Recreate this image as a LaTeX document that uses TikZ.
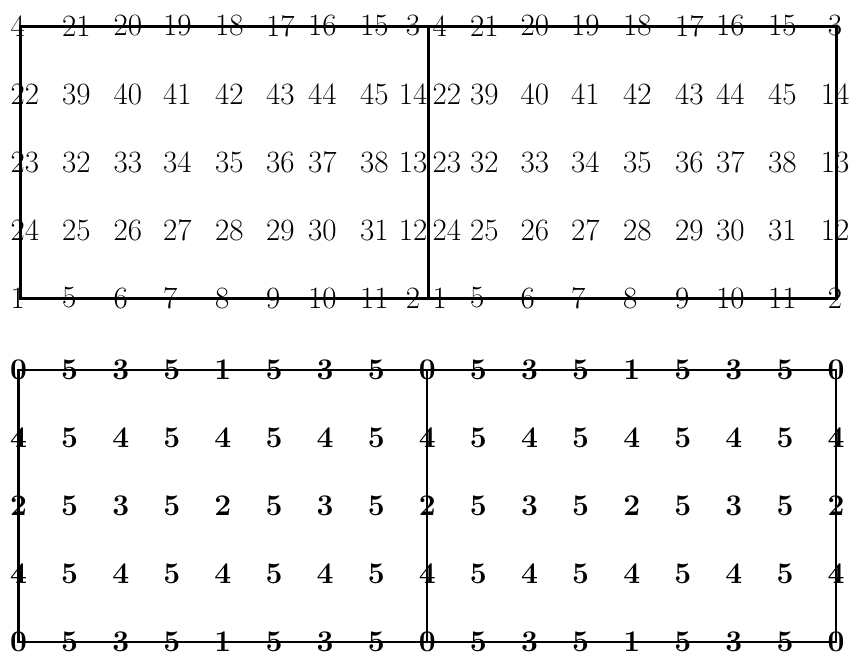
\documentclass[tikz,border=0pt]{standalone}
\usepackage{tikz}
\usetikzlibrary{positioning}
\tikzset{
  x=1pt,y=-1pt,
  numlbl/.style={inner sep=0pt,font=\fontsize{31}{36}\selectfont},
  wtlbl/.style={inner sep=0pt,font=\fontsize{30}{36}\selectfont\bfseries},
  meshbox/.style={line width=3pt},
  wtbox/.style={line width=2.2pt},
}

\begin{document}
\begin{tikzpicture}
  \useasboundingbox (0,0) rectangle (851,651);
  % node numbers, two copies of the mesh
  \foreach \row [count=\r from 0] in {{4,21,20,19,18,17,16,15,3},
      {22,39,40,41,42,43,44,45,14},{23,32,33,34,35,36,37,38,13},
      {24,25,26,27,28,29,30,31,12},{1,5,6,7,8,9,10,11,2}}{
    \foreach \lbl [count=\c from 0] in \row {
      \pgfmathsetmacro\lx{{10.5,62,113.5,163,215,266,308,360,413}[\c]}
      \pgfmathsetmacro\rx{{432.5,470,520.5,571,623,675,716,768,835}[\c]}
      \ifnum\c<8 \def\anc{west}\else\def\anc{center}\fi
      \node[numlbl,anchor=\anc] (l-\r-\c) at (\lx,26+68*\r) {\lbl};
      \node[numlbl,anchor=\anc] (r-\r-\c) at (\rx,26+68*\r) {\lbl};
    }
  }
  \coordinate (tn1) at (20,26);   \coordinate (ts1) at (20,298);
  \coordinate (tn2) at (428.5,26);\coordinate (ts2) at (428.5,298);
  \coordinate (tn3) at (836,26);  \coordinate (ts3) at (836,298);
  \draw[meshbox] (tn1) -- (tn3) -- (ts3) -- (ts1) -- cycle;
  \draw[meshbox] (tn2) -- (ts2);
  % weights
  \foreach \row [count=\r from 0] in {{0,5,3,5,1,5,3,5,0,5,3,5,1,5,3,5,0},
      {4,5,4,5,4,5,4,5,4,5,4,5,4,5,4,5,4},{2,5,3,5,2,5,3,5,2,5,3,5,2,5,3,5,2},
      {4,5,4,5,4,5,4,5,4,5,4,5,4,5,4,5,4},{0,5,3,5,1,5,3,5,0,5,3,5,1,5,3,5,0}}{
    \foreach \lbl [count=\c from 0] in \row
      \node[wtlbl] (w-\r-\c) at (18.5+51.1*\c,370+67.9*\r) {\lbl};
  }
  \coordinate (bn1) at (w-0-0);  \coordinate (bs1) at (w-4-0);
  \coordinate (bn2) at (w-0-8);  \coordinate (bs2) at (w-4-8);
  \coordinate (bn3) at (w-0-16); \coordinate (bs3) at (w-4-16);
  \draw[wtbox] (bn1) -- (bn3) -- (bs3) -- (bs1) -- cycle;
  \draw[wtbox] (bn2) -- (bs2);
\end{tikzpicture}
\end{document}
